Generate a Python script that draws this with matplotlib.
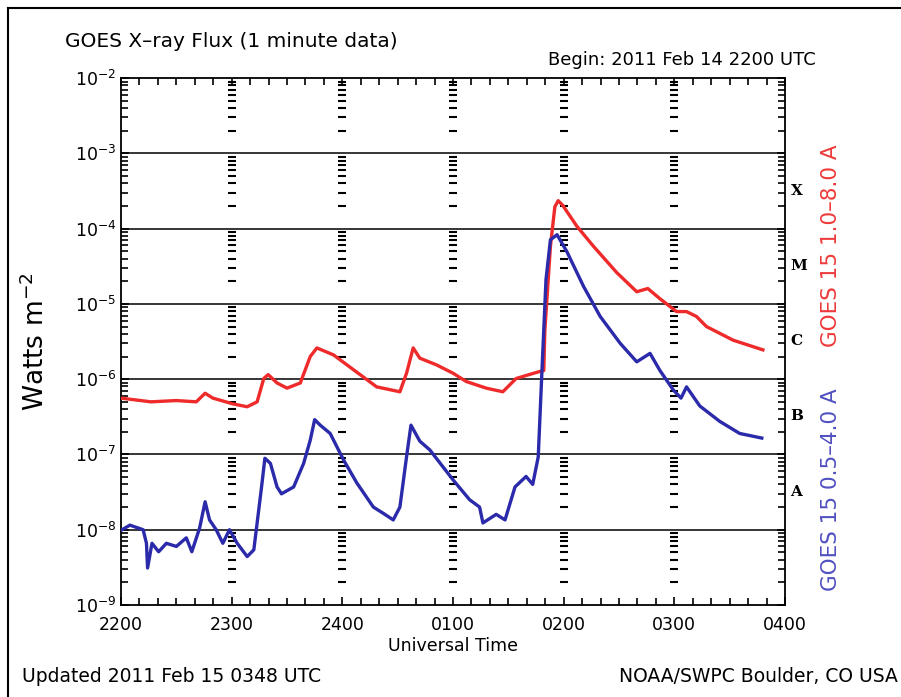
import matplotlib
matplotlib.use('Agg')
import matplotlib.pyplot as plt
import numpy as np
from matplotlib.ticker import FixedLocator, LogLocator, NullFormatter

# hours after 2200 UTC and flux (W m^-2)
long_t = [0.00, 0.27, 0.50, 0.68, 0.76, 0.83, 1.01, 1.14, 1.23, 1.29, 1.33, 1.41,
          1.50, 1.62, 1.71, 1.77, 1.92, 2.16, 2.31, 2.52, 2.58, 2.64, 2.70, 2.85,
          3.00, 3.12, 3.30, 3.45, 3.57, 3.73, 3.78, 3.82, 3.83, 3.88, 3.92, 3.95,
          3.99, 4.12, 4.27, 4.48, 4.66, 4.76, 4.87, 5.02, 5.11, 5.20, 5.29, 5.53, 5.80]
long_flux = [5.6e-7, 5.0e-7, 5.2e-7, 5.0e-7, 6.5e-7, 5.6e-7, 4.7e-7, 4.3e-7, 5.0e-7,
             1.02e-6, 1.15e-6, 8.9e-7, 7.6e-7, 8.9e-7, 2.0e-6, 2.6e-6, 2.1e-6,
             1.15e-6, 7.9e-7, 6.8e-7, 1.2e-6, 2.6e-6, 1.9e-6, 1.55e-6, 1.2e-6,
             9.3e-7, 7.6e-7, 6.8e-7, 1.02e-6, 1.2e-6, 1.26e-6, 1.3e-6, 4.5e-6,
             5.8e-5, 1.95e-4, 2.35e-4, 2.05e-4, 1.07e-4, 5.8e-5, 2.6e-5, 1.45e-5,
             1.6e-5, 1.17e-5, 7.9e-6, 7.9e-6, 6.8e-6, 5.0e-6, 3.3e-6, 2.45e-6]

short_t = [0.01, 0.08, 0.20, 0.23, 0.24, 0.28, 0.34, 0.41, 0.50, 0.59, 0.64, 0.71,
           0.76, 0.80, 0.86, 0.92, 0.98, 1.05, 1.14, 1.20, 1.23, 1.27, 1.30, 1.35,
           1.41, 1.45, 1.56, 1.65, 1.71, 1.75, 1.80, 1.89, 2.01, 2.13, 2.28, 2.37,
           2.46, 2.52, 2.58, 2.62, 2.70, 2.79, 3.00, 3.15, 3.24, 3.27, 3.39, 3.47,
           3.56, 3.66, 3.72, 3.77, 3.80, 3.84, 3.88, 3.94, 4.03, 4.18, 4.33, 4.51,
           4.66, 4.78, 4.87, 4.99, 5.06, 5.11, 5.23, 5.41, 5.59, 5.79]
short_flux = [1.0e-8, 1.15e-8, 1.0e-8, 6.6e-9, 3.1e-9, 6.6e-9, 5.1e-9, 6.6e-9, 6.0e-9,
              7.8e-9, 5.1e-9, 1.05e-8, 2.35e-8, 1.35e-8, 1.0e-8, 6.6e-9, 1.0e-8,
              6.6e-9, 4.4e-9, 5.4e-9, 1.23e-8, 3.7e-8, 8.9e-8, 7.6e-8, 3.7e-8,
              3.0e-8, 3.7e-8, 7.6e-8, 1.55e-7, 2.9e-7, 2.45e-7, 1.9e-7, 8.5e-8,
              4.2e-8, 2.0e-8, 1.65e-8, 1.35e-8, 2.0e-8, 9.3e-8, 2.45e-7, 1.5e-7,
              1.15e-7, 4.6e-8, 2.5e-8, 2.0e-8, 1.23e-8, 1.6e-8, 1.35e-8, 3.7e-8,
              5.1e-8, 4.0e-8, 9.3e-8, 9.8e-7, 2.1e-5, 7.1e-5, 8.3e-5, 4.9e-5,
              1.7e-5, 6.8e-6, 3.0e-6, 1.7e-6, 2.2e-6, 1.3e-6, 7.2e-7, 5.6e-7,
              7.9e-7, 4.4e-7, 2.75e-7, 1.9e-7, 1.65e-7]

hour_ticks = [0, 1, 2, 3, 4, 5, 6]
hour_labels = ['2200', '2300', '2400', '0100', '0200', '0300', '0400']
flare_classes = ['X', 'M', 'C', 'B', 'A']
class_levels = [3.2e-4, 3.2e-5, 3.2e-6, 3.2e-7, 3.2e-8]

fig = plt.figure(figsize=(9.01, 6.97), dpi=100)
ax = fig.add_axes([0.1343, 0.132, 0.737, 0.756])

ax.plot(long_t, long_flux, color='#ee2a2a', lw=2.4, zorder=3)
ax.plot(short_t, short_flux, color='#2a2aaa', lw=2.4, zorder=3)

ax.set_yscale('log')
ax.set_xlim(0, 6)
ax.set_ylim(1e-9, 1e-2)

# decade lines
for e in range(-8, -2):
    ax.axhline(10.0 ** e, color='black', lw=1.1, zorder=2)

# dashes along each hour (minor log positions)
dash_y = [k * 10.0 ** e for e in range(-9, -2) for k in range(2, 10)]
for h in hour_ticks[1:-1]:
    ax.plot([h] * len(dash_y), dash_y, ls='none', marker='_', ms=6,
            mew=1.5, color='black', zorder=2)

ax.xaxis.set_major_locator(FixedLocator(hour_ticks))
ax.set_xticklabels(hour_labels, fontsize=12.5)
ax.xaxis.set_minor_locator(FixedLocator(np.arange(0, 6.01, 1 / 6)))
ax.yaxis.set_major_locator(LogLocator(base=10, numticks=20))
ax.yaxis.set_minor_locator(LogLocator(base=10, subs=np.arange(2, 10), numticks=20))
ax.yaxis.set_minor_formatter(NullFormatter())
ax.tick_params(axis='both', which='both', direction='in', top=True, right=True)
ax.tick_params(axis='both', which='major', length=6, width=1.2, labelsize=12.5)
ax.tick_params(axis='both', which='minor', length=5, width=1.2)
ax.tick_params(axis='x', which='major', pad=8)
for s in ax.spines.values():
    s.set_linewidth(1.3)

ax.set_xlabel('Universal Time', fontsize=12.5, labelpad=2)
ax.set_ylabel('Watts m$^{-2}$', fontsize=19, labelpad=18)

for c, lv in zip(flare_classes, class_levels):
    ax.text(6.05, lv, c, fontsize=11, fontweight='bold', family='DejaVu Serif',
            va='center', ha='left')

fig.text(0.922, 0.647, 'GOES 15 1.0\u20138.0 A', color='#ee3a3a', rotation=90,
         fontsize=15.5, ha='center', va='center')
fig.text(0.922, 0.298, 'GOES 15 0.5\u20134.0 A', color='#5050c0', rotation=90,
         fontsize=15.5, ha='center', va='center')

fig.text(0.072, 0.940, 'GOES X\u2013ray Flux (1 minute data)', fontsize=14.5,
         ha='left', va='center')
fig.text(0.905, 0.914, 'Begin: 2011 Feb 14 2200 UTC', fontsize=13,
         ha='right', va='center')
fig.text(0.024, 0.029, 'Updated 2011 Feb 15 0348 UTC', fontsize=13.5,
         ha='left', va='center')
fig.text(0.996, 0.029, 'NOAA/SWPC Boulder, CO USA', fontsize=13.5,
         ha='right', va='center')

# page frame lines
fig.add_artist(plt.Line2D([0.009, 1.0], [0.988, 0.988], color='black', lw=1.5))
fig.add_artist(plt.Line2D([0.009, 0.009], [0.0, 0.988], color='black', lw=1.5))

fig.savefig('out.png', dpi=100)
